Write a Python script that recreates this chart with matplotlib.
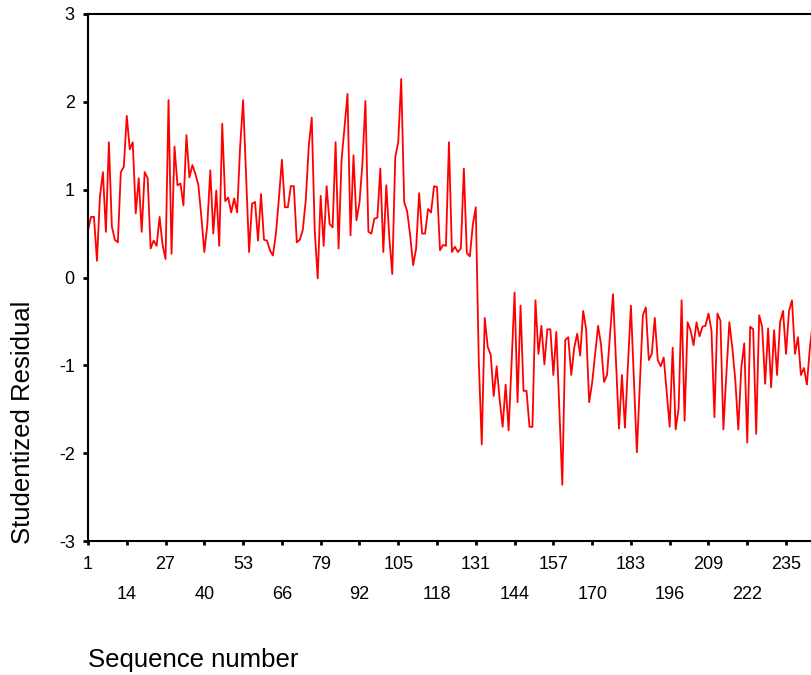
#!/usr/bin/env python3
"""
Sequence plot of studentized residuals (SPSS-style line chart).
"""

import numpy as np
import matplotlib
matplotlib.use("Agg")
import matplotlib.pyplot as plt

plt.rcParams['font.family'] = ['Liberation Sans', 'DejaVu Sans']
plt.rcParams['axes.unicode_minus'] = False

# Studentized residuals, cases 1..131 (before the level shift)
resid_first = [
    0.54, 0.69, 0.69, 0.19, 0.92, 1.20, 0.52, 1.54, 0.58, 0.43,
    0.40, 1.20, 1.26, 1.84, 1.46, 1.54, 0.73, 1.13, 0.52, 1.20,
    1.13, 0.33, 0.42, 0.36, 0.69, 0.37, 0.21, 2.02, 0.27, 1.49,
    1.05, 1.07, 0.82, 1.62, 1.14, 1.28, 1.18, 1.05, 0.69, 0.29,
    0.60, 1.22, 0.50, 0.99, 0.36, 1.75, 0.87, 0.91, 0.74, 0.90,
    0.74, 1.49, 2.02, 1.15, 0.29, 0.84, 0.86, 0.42, 0.95, 0.43,
    0.42, 0.31, 0.25, 0.50, 0.90, 1.34, 0.80, 0.80, 1.04, 1.04,
    0.40, 0.43, 0.54, 0.88, 1.49, 1.82, 0.54, -0.01, 0.93, 0.36,
    1.04, 0.61, 0.57, 1.54, 0.33, 1.34, 1.72, 2.09, 0.48, 1.39,
    0.65, 0.85, 1.30, 2.01, 0.52, 0.50, 0.67, 0.68, 1.24, 0.29,
    1.05, 0.46, 0.04, 1.37, 1.54, 2.26, 0.86, 0.75, 0.48, 0.14,
    0.33, 0.96, 0.50, 0.50, 0.78, 0.74, 1.04, 1.03, 0.31, 0.37,
    0.36, 1.54, 0.29, 0.35, 0.29, 0.33, 1.24, 0.28, 0.24, 0.60,
    0.80,
]

# Studentized residuals, cases 132..244 (after the level shift)
resid_second = [
    -0.95, -1.90, -0.46, -0.79, -0.88, -1.35, -1.01, -1.39, -1.70, -1.22,
    -1.74, -0.97, -0.17, -1.42, -0.32, -1.29, -1.29, -1.70, -1.70, -0.26,
    -0.87, -0.55, -0.99, -0.59, -0.59, -1.11, -0.62, -1.50, -2.36, -0.71,
    -0.68, -1.11, -0.80, -0.64, -0.89, -0.38, -0.59, -1.42, -1.20, -0.88,
    -0.55, -0.77, -1.19, -1.11, -0.65, -0.19, -0.95, -1.72, -1.11, -1.71,
    -1.00, -0.32, -1.15, -1.99, -1.20, -0.43, -0.34, -0.94, -0.87, -0.46,
    -0.94, -1.01, -0.91, -1.30, -1.70, -0.80, -1.73, -1.49, -0.26, -1.63,
    -0.51, -0.60, -0.77, -0.51, -0.67, -0.56, -0.55, -0.41, -0.60, -1.59,
    -0.41, -0.49, -1.73, -1.10, -0.51, -0.80, -1.17, -1.73, -1.03, -0.75,
    -1.88, -0.56, -0.59, -1.78, -0.43, -0.56, -1.21, -0.58, -1.25, -0.60,
    -1.11, -0.51, -0.38, -0.87, -0.38, -0.26, -0.87, -0.68, -1.11, -1.03,
    -1.22, -0.80, -0.50,
]

x_major_ticks = [1, 27, 53, 79, 105, 131, 157, 183, 209, 235]
x_minor_ticks = [14, 40, 66, 92, 118, 144, 170, 196, 222]
y_ticks = [-3, -2, -1, 0, 1, 2, 3]

residuals = np.array(resid_first + resid_second)
seq = np.arange(1, len(residuals) + 1)

W, H = 812, 675
fig = plt.figure(figsize=(W / 100, H / 100), dpi=100)

# axes box in pixels: left spine at x=88, y from 14 (top) to 541 (bottom);
# the right part of the frame runs past the picture edge, as in the source
px_per_case = 2.983
x_max = 250
left, top, bottom = 88, 14, 541
ax = fig.add_axes([left / W, (H - bottom) / H,
                   (x_max - 1) * px_per_case / W, (bottom - top) / H])

ax.plot(seq, residuals, color='#ff0000', linewidth=1.3)

ax.set_xlim(1, x_max)
ax.set_ylim(-3, 3)

for spine in ax.spines.values():
    spine.set_linewidth(1.5)
    spine.set_color('black')

ax.set_yticks(y_ticks)
ax.set_yticklabels([str(v) for v in y_ticks])
ax.set_xticks(x_major_ticks)
ax.set_xticklabels([str(v) for v in x_major_ticks])
ax.set_xticks(x_minor_ticks, minor=True)
ax.set_xticklabels([str(v) for v in x_minor_ticks], minor=True)

ax.tick_params(axis='y', which='major', direction='out', length=3.5, width=2,
               labelsize=13, pad=6)
ax.tick_params(axis='x', which='major', direction='out', length=3, width=2,
               labelsize=13, pad=7.5)
ax.tick_params(axis='x', which='minor', direction='out', length=3, width=2,
               labelsize=13, pad=29.5)

ax.set_xlabel('Sequence number', fontsize=18.5, ha='left', va='center')
ax.xaxis.set_label_coords(88 / W, (H - 660) / H, transform=fig.transFigure)
ax.set_ylabel('Studentized Residual', fontsize=18.5, va='center')
ax.yaxis.set_label_coords(23 / W, (H - 422) / H, transform=fig.transFigure)

ax.grid(False)

fig.savefig('out.png', dpi=100)
